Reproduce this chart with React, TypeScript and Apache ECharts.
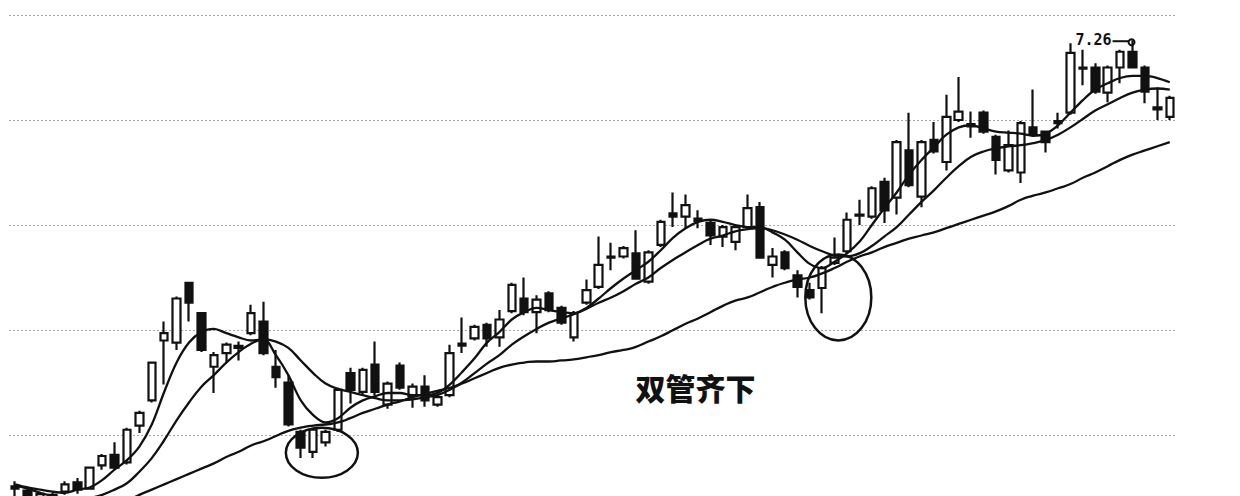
import React, { useEffect, useRef } from "react";
import * as echarts from "echarts";

// ---- data (prices) ----
const opens = [
  2.99, 2.97, 2.91, 2.93, 2.96, 3.05, 2.99, 3.21, 3.31, 3.24,
  3.59, 3.83, 4.40, 4.38, 4.95, 4.66, 4.15, 4.28, 4.33, 4.47,
  4.58, 4.15, 4.00, 3.53, 3.34, 3.43, 3.55, 4.09, 3.91, 4.17,
  3.79, 4.16, 3.87, 3.96, 3.79, 3.88, 4.37, 4.42, 4.55, 4.43,
  4.68, 4.80, 4.67, 4.85, 4.71, 4.43, 4.76, 4.91, 5.19, 5.20,
  5.23, 4.96, 5.31, 5.61, 5.58, 5.54, 5.52, 5.39, 5.34, 5.48,
  5.67, 5.12, 5.24, 5.02, 4.88, 4.90, 5.14, 5.25, 5.59, 5.58,
  5.91, 5.76, 6.21, 5.77, 6.31, 6.10, 6.50, 6.44, 6.57, 6.34,
  6.02, 6.00, 6.43, 6.39, 6.47, 6.57, 6.99, 7.00, 6.76, 7.00,
  7.15, 7.00, 6.60, 6.53,
];
const closes = [
  3.01, 2.93, 2.94, 2.89, 3.03, 2.98, 3.19, 3.30, 3.19, 3.55,
  3.71, 4.19, 4.47, 4.80, 4.76, 4.31, 4.26, 4.36, 4.35, 4.66,
  4.28, 4.05, 3.60, 3.38, 3.55, 3.53, 3.93, 3.93, 4.12, 3.91,
  3.99, 3.95, 3.96, 3.83, 3.86, 4.28, 4.35, 4.53, 4.42, 4.60,
  4.93, 4.67, 4.79, 4.69, 4.57, 4.66, 4.88, 5.12, 5.20, 5.28,
  4.99, 5.24, 5.53, 5.58, 5.69, 5.56, 5.40, 5.48, 5.48, 5.66,
  5.19, 5.20, 5.09, 4.91, 4.81, 5.09, 5.19, 5.55, 5.60, 5.85,
  5.64, 6.29, 5.88, 6.29, 6.20, 6.53, 6.58, 6.46, 6.39, 6.12,
  6.26, 6.47, 6.36, 6.29, 6.49, 7.14, 7.00, 6.77, 7.00, 7.15,
  7.00, 6.77, 6.62, 6.71,
];
const lows = [
  2.92, 2.90, 2.88, 2.86, 2.93, 2.94, 2.98, 3.17, 3.17, 3.22,
  3.52, 3.81, 3.98, 4.31, 4.58, 4.29, 3.90, 4.19, 4.21, 4.45,
  4.26, 3.95, 3.58, 3.28, 3.28, 3.39, 3.53, 3.80, 3.89, 3.88,
  3.75, 3.93, 3.76, 3.77, 3.77, 3.86, 4.28, 4.40, 4.34, 4.34,
  4.66, 4.64, 4.47, 4.67, 4.55, 4.39, 4.74, 4.89, 5.07, 5.18,
  4.98, 4.94, 5.29, 5.48, 5.47, 5.47, 5.31, 5.29, 5.26, 5.46,
  5.18, 5.00, 5.07, 4.81, 4.79, 4.66, 5.12, 5.23, 5.50, 5.56,
  5.52, 5.60, 5.86, 5.67, 6.18, 6.02, 6.48, 6.33, 6.37, 5.98,
  6.00, 5.90, 6.34, 6.19, 6.42, 6.55, 6.83, 6.75, 6.67, 6.85,
  6.99, 6.66, 6.50, 6.50,
];
const highs = [
  3.06, 2.99, 2.96, 2.95, 3.06, 3.09, 3.20, 3.32, 3.43, 3.57,
  3.73, 4.20, 4.58, 4.82, 4.96, 4.67, 4.29, 4.38, 4.39, 4.74,
  4.77, 4.31, 4.07, 3.55, 3.57, 3.55, 3.95, 4.14, 4.14, 4.39,
  4.01, 4.19, 3.99, 4.07, 3.88, 4.36, 4.62, 4.55, 4.57, 4.69,
  4.95, 5.00, 4.83, 4.87, 4.73, 4.68, 4.98, 5.39, 5.33, 5.30,
  5.45, 5.26, 5.55, 5.81, 5.79, 5.64, 5.54, 5.50, 5.50, 5.79,
  5.72, 5.28, 5.26, 5.07, 4.95, 5.11, 5.38, 5.62, 5.74, 5.87,
  5.95, 6.31, 6.57, 6.31, 6.48, 6.74, 6.91, 6.58, 6.59, 6.36,
  6.40, 6.49, 6.79, 6.40, 6.57, 7.23, 7.17, 7.04, 7.02, 7.17,
  7.26, 7.02, 6.81, 6.73,
];
const ma5 = [
  3.03, 3.00, 2.98, 2.96, 2.95, 2.98, 3.00, 3.07, 3.17, 3.26,
  3.39, 3.60, 3.91, 4.19, 4.38, 4.48, 4.51, 4.47, 4.43, 4.40,
  4.41, 4.26, 4.07, 3.83, 3.69, 3.62, 3.66, 3.76, 3.83, 3.87,
  3.90, 3.90, 3.88, 3.88, 3.90, 3.98, 4.10, 4.23, 4.38, 4.48,
  4.60, 4.67, 4.71, 4.69, 4.67, 4.66, 4.71, 4.80, 4.90, 4.99,
  5.07, 5.15, 5.26, 5.38, 5.47, 5.53, 5.55, 5.53, 5.50, 5.48,
  5.48, 5.43, 5.36, 5.24, 5.13, 5.09, 5.15, 5.23, 5.34, 5.50,
  5.66, 5.81, 5.98, 6.12, 6.24, 6.36, 6.43, 6.45, 6.42, 6.39,
  6.38, 6.37, 6.35, 6.37, 6.45, 6.57, 6.69, 6.79, 6.85, 6.90,
  6.92, 6.92, 6.90, 6.86,
];
const ma10 = [
  3.02, 2.99, 2.95, 2.92, 2.90, 2.89, 2.90, 2.93, 2.98, 3.04,
  3.15, 3.28, 3.45, 3.64, 3.81, 3.96, 4.07, 4.19, 4.29, 4.37,
  4.41, 4.39, 4.33, 4.21, 4.09, 3.99, 3.94, 3.91, 3.88, 3.85,
  3.83, 3.83, 3.84, 3.86, 3.88, 3.93, 4.00, 4.09, 4.18, 4.26,
  4.36, 4.44, 4.51, 4.57, 4.61, 4.65, 4.70, 4.76, 4.81, 4.87,
  4.94, 5.00, 5.09, 5.17, 5.24, 5.31, 5.37, 5.40, 5.44, 5.46,
  5.47, 5.45, 5.41, 5.36, 5.30, 5.25, 5.21, 5.20, 5.23, 5.30,
  5.39, 5.48, 5.60, 5.72, 5.83, 5.95, 6.06, 6.15, 6.20, 6.23,
  6.25, 6.26, 6.28, 6.31, 6.36, 6.43, 6.51, 6.59, 6.65, 6.71,
  6.76, 6.79, 6.80, 6.79,
];
const ma30 = [
  null, null, null, null, null, null, null, null, 2.82, 2.87,
  2.93, 2.98, 3.03, 3.08, 3.13, 3.18, 3.23, 3.29, 3.34, 3.40,
  3.44, 3.49, 3.54, 3.57, 3.59, 3.60, 3.62, 3.66, 3.71, 3.75,
  3.79, 3.82, 3.86, 3.89, 3.92, 3.95, 3.99, 4.04, 4.09, 4.14,
  4.17, 4.19, 4.20, 4.20, 4.21, 4.22, 4.24, 4.26, 4.29, 4.31,
  4.34, 4.39, 4.44, 4.50, 4.56, 4.61, 4.67, 4.73, 4.78, 4.81,
  4.86, 4.91, 4.95, 4.98, 5.00, 5.04, 5.09, 5.15, 5.20, 5.24,
  5.29, 5.33, 5.37, 5.40, 5.43, 5.47, 5.51, 5.55, 5.59, 5.63,
  5.68, 5.74, 5.78, 5.81, 5.85, 5.89, 5.95, 6.00, 6.06, 6.12,
  6.17, 6.21, 6.25, 6.29,
];
const gridLevels = [3.5, 4.5, 5.5, 6.5, 7.5];
const categories = opens.map((_, i) => String(i + 1));
const Y_MIN = 2.919;
const Y_MAX = 7.643;

const titleText = "双管齐下";
const peakLabel = "7.26";
const peakIndex = 90;
// annotation anchors in data space: [category index, price]
const circleA = { at: [24.7, 3.33], rx: 36, ry: 25 };
const circleB = { at: [66.3, 4.81], rx: 33, ry: 43 };
const textAt = [54.8, 3.96];

export default function App() {
  const ref = useRef<HTMLDivElement>(null);
  useEffect(() => {
    if (!ref.current) return;
    const chart = echarts.init(ref.current, null, { renderer: "svg" });
    const candleData = opens.map((o, i) => [o, closes[i], lows[i], highs[i]]);
    const lineStyle = { color: "#111", width: 2.3 };
    chart.setOption({
      animation: false,
      backgroundColor: "#ffffff",
      grid: { left: 9, right: 64, top: 0, bottom: 0 },
      xAxis: {
        type: "category",
        data: categories,
        show: false,
        boundaryGap: true,
      },
      yAxis: {
        type: "value",
        min: Y_MIN,
        max: Y_MAX,
        show: false,
        splitLine: { show: false },
      },
      series: [
        {
          type: "candlestick",
          data: candleData,
          barWidth: 8,
          z: 3,
          itemStyle: {
            color: "#ffffff",
            color0: "#111111",
            borderColor: "#111111",
            borderColor0: "#111111",
            borderColorDoji: "#111111",
            borderWidth: 2.2,
          },
          markLine: {
            silent: true,
            symbol: "none",
            z: 1,
            label: { show: false },
            lineStyle: { color: "#a8a8a8", type: [2, 2], width: 1 },
            data: gridLevels.map((v) => ({ yAxis: v })),
          },
        },
        { type: "line", data: ma5, smooth: 0.35, symbol: "none", lineStyle, z: 4 },
        { type: "line", data: ma10, smooth: 0.4, symbol: "none", lineStyle, z: 4 },
        { type: "line", data: ma30, smooth: 0.6, symbol: "none", lineStyle, z: 4 },
      ],
    });

    const toPx = (pt: number[]) => {
      const i0 = Math.floor(pt[0]);
      const f = pt[0] - i0;
      const a = chart.convertToPixel({ gridIndex: 0 }, [i0, pt[1]]) as number[];
      const b = chart.convertToPixel({ gridIndex: 0 }, [i0 + 1, pt[1]]) as number[];
      return [a[0] + (b[0] - a[0]) * f, a[1]];
    };
    const a = toPx(circleA.at);
    const b = toPx(circleB.at);
    const t = toPx(textAt);
    const pk = chart.convertToPixel({ gridIndex: 0 }, [peakIndex, highs[peakIndex]]) as number[];

    chart.setOption({
      graphic: [
        {
          type: "ellipse",
          shape: { cx: a[0], cy: a[1], rx: circleA.rx, ry: circleA.ry },
          style: { fill: "none", stroke: "#111", lineWidth: 2.5 },
          z: 10,
        },
        {
          type: "ellipse",
          shape: { cx: b[0], cy: b[1], rx: circleB.rx, ry: circleB.ry },
          style: { fill: "none", stroke: "#111", lineWidth: 2.5 },
          z: 10,
        },
        {
          type: "text",
          x: t[0],
          y: t[1],
          style: {
            text: titleText,
            fill: "#111",
            font: '900 30px "Noto Sans CJK SC", sans-serif',
            textAlign: "center",
            textVerticalAlign: "middle",
          },
          z: 10,
        },
        {
          type: "text",
          x: pk[0] - 21,
          y: pk[1],
          style: {
            text: peakLabel,
            fill: "#111",
            font: 'bold 15px "DejaVu Sans Mono", monospace',
            textAlign: "right",
            textVerticalAlign: "middle",
          },
          z: 10,
        },
        {
          type: "line",
          shape: { x1: pk[0] - 20, y1: pk[1] + 1, x2: pk[0] - 4, y2: pk[1] + 1 },
          style: { stroke: "#111", lineWidth: 2 },
          z: 10,
        },
        {
          type: "circle",
          shape: { cx: pk[0] - 1, cy: pk[1] + 2, r: 3 },
          style: { fill: "none", stroke: "#111", lineWidth: 2 },
          z: 10,
        },
      ],
    });
    return () => chart.dispose();
  }, []);
  return (
    <div
      ref={ref}
      style={{ position: "fixed", left: 0, top: 0, width: 1240, height: 496, background: "#fff" }}
    />
  );
}
